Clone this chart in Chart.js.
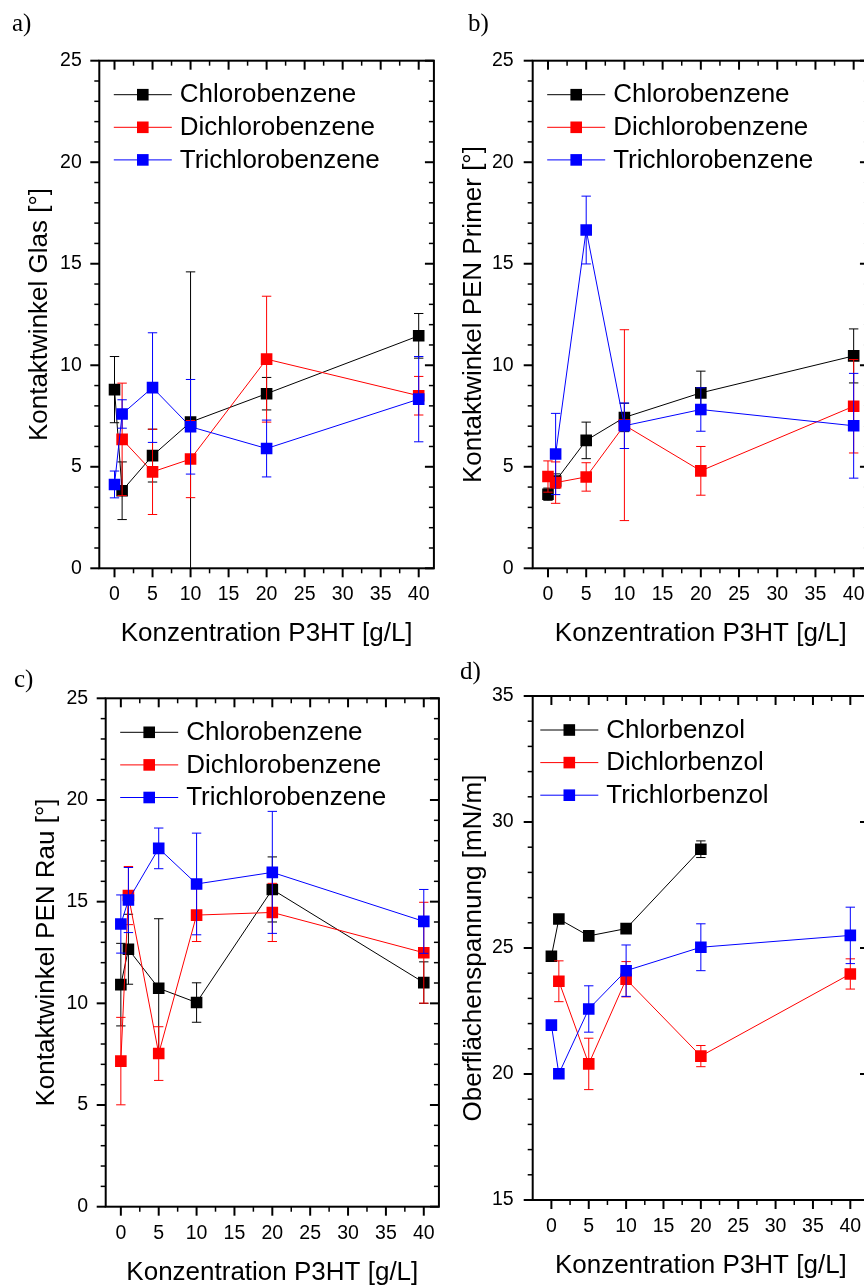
<!DOCTYPE html>
<html>
<head>
<meta charset="utf-8">
<script src="https://cdn.jsdelivr.net/npm/chart.js@4.4.1/dist/chart.umd.min.js"></script>
<style>
html, body { margin: 0; padding: 0; background: #fff; overflow: hidden; }
#page { position: relative; width: 864px; height: 1287px; overflow: hidden; }
canvas { position: absolute; }
.tag { position: absolute; font-family: "Liberation Serif", "Times New Roman", serif; font-size: 25px; line-height: 25px; color: #000; }
</style>
</head>
<body>
<div id="page">
  <canvas id="chartA"></canvas>
  <canvas id="chartB"></canvas>
  <canvas id="chartC"></canvas>
  <canvas id="chartD"></canvas>
  <div class="tag" style="left:12px;top:10px">a)</div>
  <div class="tag" style="left:468px;top:10px">b)</div>
  <div class="tag" style="left:14px;top:666px">c)</div>
  <div class="tag" style="left:460px;top:658px">d)</div>
</div>
<script>
// Konzentrationen P3HT [g/L]
const concentrations = [0, 1, 5, 10, 20, 40];
const xTickValues = [0, 5, 10, 15, 20, 25, 30, 35, 40];
const angleTickValues = [0, 5, 10, 15, 20, 25];
const tensionTickValues = [15, 20, 25, 30, 35];

const solventNamesEn = ['Chlorobenzene', 'Dichlorobenzene', 'Trichlorobenzene'];
const solventNamesDe = ['Chlorbenzol', 'Dichlorbenzol', 'Trichlorbenzol'];

// a) Kontaktwinkel Glas
const glasChloro = [8.8, 3.82, 5.55, 7.2, 8.6, 11.45];
const glasChloroErr = [1.63, 1.42, 1.3, 7.4, 0.8, 1.1];
const glasDichloro = [null, 6.35, 4.75, 5.38, 10.3, 8.5];
const glasDichloroErr = [null, 2.77, 2.1, 1.9, 3.1, 0.95];
const glasTrichloro = [4.13, 7.6, 8.9, 6.97, 5.9, 8.33];
const glasTrichloroErr = [0.66, 0.7, 2.7, 2.33, 1.4, 2.1];

// b) Kontaktwinkel PEN Primer
const primerChloro = [3.65, 4.3, 6.3, 7.43, 8.64, 10.46];
const primerChloroErr = [0.3, 0.35, 0.9, 0.7, 1.07, 1.33];
const primerDichloro = [4.52, 4.22, 4.5, 7.05, 4.8, 7.98];
const primerDichloroErr = [0.77, 1.02, 0.7, 4.7, 1.2, 2.3];
const primerTrichloro = [null, 5.63, 16.66, 7.02, 7.82, 7.02];
const primerTrichloroErr = [null, 2.0, 1.67, 1.12, 1.07, 2.58];

// c) Kontaktwinkel PEN Rau
const rauChloro = [10.92, 12.66, 10.74, 10.04, 15.6, 11.02];
const rauChloroErr = [2.03, 1.72, 3.42, 0.97, 1.6, 1.02];
const rauDichloro = [7.16, 15.3, 7.53, 14.34, 14.47, 12.49];
const rauDichloroErr = [2.15, 1.43, 1.32, 1.3, 1.43, 2.48];
const rauTrichloro = [13.9, 15.08, 17.62, 15.87, 16.44, 14.03];
const rauTrichloroErr = [1.43, 1.6, 1.0, 2.5, 3.0, 1.57];

// d) Oberflächenspannung [mN/m]
const tensionChloro = [24.67, 26.15, 25.48, 25.77, 28.92, null];
const tensionChloroErr = [0.15, 0.15, 0.15, 0.15, 0.33, null];
const tensionDichloro = [null, 23.68, 20.4, 23.76, 20.71, 23.97];
const tensionDichloroErr = [null, 0.81, 1.02, 0.7, 0.42, 0.6];
const tensionTrichloro = [21.94, 20.01, 22.58, 24.1, 25.03, 25.5];
const tensionTrichloroErr = [0.15, 0.1, 0.92, 1.02, 0.93, 1.12];

const seriesColors = ['#000000', '#ff0000', '#0000ff'];

Chart.defaults.font.family = "'Liberation Sans', Arial, sans-serif";
Chart.defaults.color = '#000';

// Fehlerbalken, je Datensatz vor dessen Linie gezeichnet
const errorBars = {
    id: 'errorBars',
    beforeDatasetDraw(chart, args) {
        const ds = chart.data.datasets[args.index];
        const yScale = chart.scales.y;
        const a = chart.chartArea;
        const ctx = chart.ctx;
        ctx.save();
        ctx.beginPath();
        ctx.rect(a.left, a.top, a.right - a.left, a.bottom - a.top);
        ctx.clip();
        ctx.strokeStyle = ds.borderColor;
        ctx.lineWidth = 1;
        args.meta.data.forEach((pt, k) => {
            const v = ds.data[k].y;
            const e = ds.errors[k];
            if (v === null || e === null) return;
            const yTop = yScale.getPixelForValue(v + e);
            const yBot = yScale.getPixelForValue(v - e);
            ctx.beginPath();
            ctx.moveTo(pt.x, yTop); ctx.lineTo(pt.x, yBot);
            ctx.moveTo(pt.x - 4.7, yTop); ctx.lineTo(pt.x + 4.7, yTop);
            ctx.moveTo(pt.x - 4.7, yBot); ctx.lineTo(pt.x + 4.7, yBot);
            ctx.stroke();
        });
        ctx.restore();
    }
};

// Rahmen mit Haupt- und Nebenstrichen (unten/links außen, oben/rechts innen)
const frameTicks = {
    id: 'frameTicks',
    afterDraw(chart) {
        const {ctx, chartArea: a, scales} = chart;
        const xs = scales.x, ys = scales.y;
        const xMajor = xs.ticks.map(t => t.value);
        const yMajor = ys.ticks.map(t => t.value);
        const xStep = xMajor[1] - xMajor[0];
        const yStep = yMajor[1] - yMajor[0];
        const xMinor = [];
        for (let v = xMajor[0] - xStep / 2; v < xs.max; v += xStep) {
            if (v > xs.min) xMinor.push(v);
        }
        const yMinor = [];
        const n = Math.round((ys.max - ys.min) / (yStep / 5));
        for (let k = 1; k < n; k++) {
            if (k % 5 !== 0) yMinor.push(ys.min + k * yStep / 5);
        }
        ctx.save();
        ctx.strokeStyle = '#000';
        const seg = (x1, y1, x2, y2, w) => {
            ctx.lineWidth = w;
            ctx.beginPath(); ctx.moveTo(x1, y1); ctx.lineTo(x2, y2); ctx.stroke();
        };
        xMajor.forEach(v => {
            const p = xs.getPixelForValue(v);
            seg(p, a.bottom, p, a.bottom + 9, 2);
            seg(p, a.top, p, a.top + 9, 2);
        });
        xMinor.forEach(v => {
            const p = xs.getPixelForValue(v);
            seg(p, a.bottom, p, a.bottom + 5, 1.5);
            seg(p, a.top, p, a.top + 5, 1.5);
        });
        yMajor.forEach(v => {
            const p = ys.getPixelForValue(v);
            seg(a.left - 9, p, a.left, p, 2);
            seg(a.right - 9, p, a.right, p, 2);
        });
        yMinor.forEach(v => {
            const p = ys.getPixelForValue(v);
            seg(a.left - 5, p, a.left, p, 1.5);
            seg(a.right - 5, p, a.right, p, 1.5);
        });
        ctx.lineWidth = 2;
        ctx.strokeRect(a.left, a.top, a.right - a.left, a.bottom - a.top);
        ctx.restore();
    }
};

// Legende oben links im Diagramm: Linie mit Quadrat, dann Name
const panelLegend = {
    id: 'panelLegend',
    afterDraw(chart, args, opts) {
        const {ctx, chartArea: a} = chart;
        ctx.save();
        ctx.font = "26px 'Liberation Sans', Arial, sans-serif";
        ctx.textBaseline = 'middle';
        ctx.textAlign = 'left';
        chart.data.datasets.forEach((ds, i) => {
            const y = a.top + 34 + i * 32.6;
            const x0 = a.left + opts.left;
            ctx.strokeStyle = ds.borderColor;
            ctx.lineWidth = 1;
            ctx.beginPath(); ctx.moveTo(x0, y); ctx.lineTo(x0 + 58, y); ctx.stroke();
            ctx.fillStyle = ds.borderColor;
            ctx.fillRect(x0 + 29 - 5.8, y - 5.8, 11.6, 11.6);
            ctx.fillStyle = '#000';
            ctx.fillText(ds.label, x0 + 66, y + 0.5);
        });
        ctx.restore();
    }
};

function buildPanel(canvasId, geo, yTickList, yTitle, names, series) {
    const canvas = document.getElementById(canvasId);
    canvas.width = geo.box.width;
    canvas.height = geo.box.height;
    canvas.style.left = geo.box.left + 'px';
    canvas.style.top = geo.box.top + 'px';
    const yWidth = geo.area.left - geo.box.left;
    const xHeight = geo.box.top + geo.box.height - geo.area.bottom;

    new Chart(canvas, {
        type: 'line',
        data: {
            datasets: series.map((s, i) => ({
                label: names[i],
                data: concentrations.map((c, k) => ({x: c, y: s[0][k]})),
                errors: s[1],
                borderColor: seriesColors[i],
                backgroundColor: seriesColors[i],
                borderWidth: 1,
                pointStyle: 'rect',
                pointRadius: 8.2,
                pointBorderWidth: 0,
                tension: 0,
                order: 3 - i
            }))
        },
        options: {
            responsive: false,
            animation: false,
            events: [],
            layout: {
                padding: {
                    left: 0,
                    top: geo.area.top - geo.box.top,
                    right: geo.box.left + geo.box.width - geo.area.right,
                    bottom: 0
                }
            },
            scales: {
                x: {
                    type: 'linear',
                    min: geo.xMin,
                    max: geo.xMax,
                    afterBuildTicks: s => { s.ticks = xTickValues.map(v => ({value: v})); },
                    afterFit: s => { s.height = xHeight; },
                    grid: {display: false, drawTicks: false},
                    border: {display: false},
                    ticks: {font: {size: 19.5}, padding: 15, maxRotation: 0, autoSkip: false},
                    title: {
                        display: true,
                        text: 'Konzentration P3HT [g/L]',
                        font: {size: 26},
                        padding: {top: 0, bottom: xHeight - 65.7 - 15.6}
                    }
                },
                y: {
                    type: 'linear',
                    min: yTickList[0],
                    max: yTickList[yTickList.length - 1],
                    afterBuildTicks: s => { s.ticks = yTickList.map(v => ({value: v})); },
                    afterFit: s => { s.width = yWidth; },
                    grid: {display: false, drawTicks: false},
                    border: {display: false},
                    ticks: {font: {size: 19.5}, padding: geo.labelPad, autoSkip: false},
                    title: {
                        display: true,
                        text: yTitle,
                        font: {size: 26},
                        padding: {top: yWidth - 59 - 15.6, bottom: 0}
                    }
                }
            },
            plugins: {
                legend: {display: false},
                tooltip: {enabled: false},
                panelLegend: {left: geo.legendLeft}
            }
        },
        plugins: [errorBars, frameTicks, panelLegend]
    });
}

buildPanel('chartA',
    {box: {left: 0, top: 0, width: 445, height: 656}, area: {left: 99.3, top: 60.7, right: 435, bottom: 568.3},
     xMin: -2, xMax: 42, labelPad: 17.5, legendLeft: 14.5},
    angleTickValues, 'Kontaktwinkel Glas [°]', solventNamesEn,
    [[glasChloro, glasChloroErr], [glasDichloro, glasDichloroErr], [glasTrichloro, glasTrichloroErr]]);

buildPanel('chartB',
    {box: {left: 440, top: 0, width: 440, height: 656}, area: {left: 532.7, top: 60.7, right: 869.3, bottom: 568.3},
     xMin: -2, xMax: 42, labelPad: 19, legendLeft: 14.5},
    angleTickValues, 'Kontaktwinkel PEN Primer [°]', solventNamesEn,
    [[primerChloro, primerChloroErr], [primerDichloro, primerDichloroErr], [primerTrichloro, primerTrichloroErr]]);

buildPanel('chartC',
    {box: {left: 0, top: 655, width: 450, height: 639}, area: {left: 105.7, top: 698.3, right: 442, bottom: 1206.7},
     xMin: -2, xMax: 42, labelPad: 17.5, legendLeft: 14.5},
    angleTickValues, 'Kontaktwinkel PEN Rau [°]', solventNamesEn,
    [[rauChloro, rauChloroErr], [rauDichloro, rauDichloroErr], [rauTrichloro, rauTrichloroErr]]);

buildPanel('chartD',
    {box: {left: 440, top: 655, width: 440, height: 632}, area: {left: 532.7, top: 696, right: 869, bottom: 1200},
     xMin: -2.5, xMax: 42.5, labelPad: 19, legendLeft: 7.6},
    tensionTickValues, 'Oberflächenspannung [mN/m]', solventNamesDe,
    [[tensionChloro, tensionChloroErr], [tensionDichloro, tensionDichloroErr], [tensionTrichloro, tensionTrichloroErr]]);
</script>
</body>
</html>
